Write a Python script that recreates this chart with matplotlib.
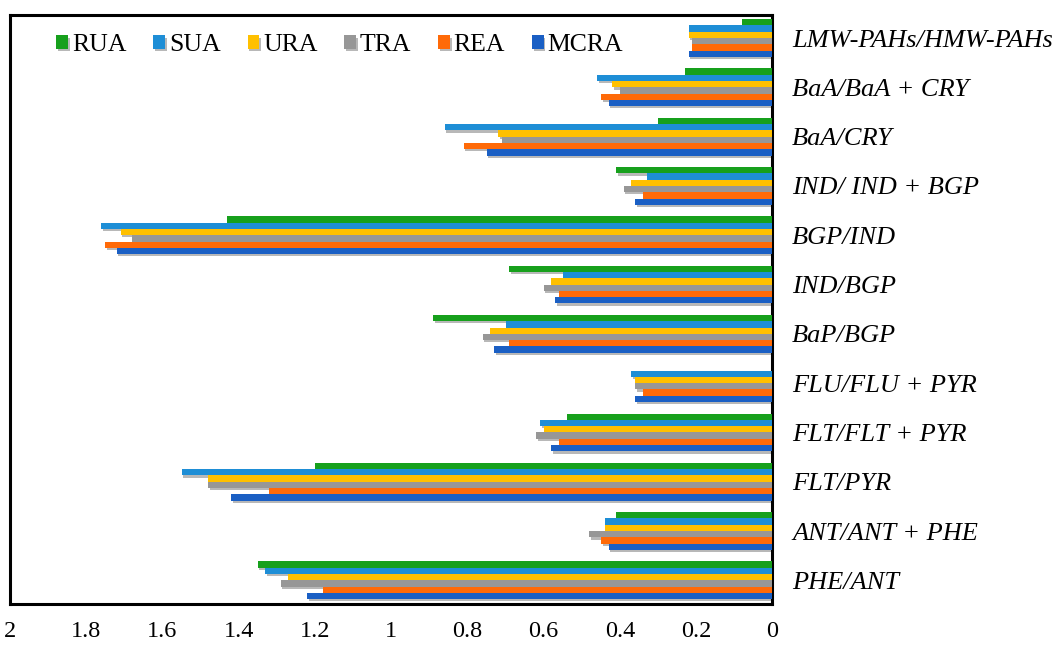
import matplotlib
matplotlib.use("Agg")
import matplotlib.pyplot as plt
import matplotlib.patheffects as pe
import numpy as np

# ---- data ----
CATS = ["LMW-PAHs/HMW-PAHs", "BaA/BaA + CRY", "BaA/CRY", "IND/ IND + BGP",
        "BGP/IND", "IND/BGP", "BaP/BGP", "FLU/FLU + PYR", "FLT/FLT + PYR",
        "FLT/PYR", "ANT/ANT + PHE", "PHE/ANT"]
SERIES = ["RUA", "SUA", "URA", "TRA", "REA", "MCRA"]
RUA  = [0.08, 0.23, 0.30, 0.41, 1.43, 0.69, 0.89, 0.00, 0.54, 1.20, 0.41, 1.35]
SUA  = [0.22, 0.46, 0.86, 0.33, 1.76, 0.55, 0.70, 0.37, 0.61, 1.55, 0.44, 1.33]
URA  = [0.22, 0.42, 0.72, 0.37, 1.71, 0.58, 0.74, 0.36, 0.60, 1.48, 0.44, 1.27]
TRA  = [0.21, 0.40, 0.71, 0.39, 1.68, 0.60, 0.76, 0.36, 0.62, 1.48, 0.48, 1.29]
REA  = [0.21, 0.45, 0.81, 0.34, 1.75, 0.56, 0.69, 0.34, 0.56, 1.32, 0.45, 1.18]
MCRA = [0.22, 0.43, 0.75, 0.36, 1.72, 0.57, 0.73, 0.36, 0.58, 1.42, 0.43, 1.22]
XTICKS = [2, 1.8, 1.6, 1.4, 1.2, 1, 0.8, 0.6, 0.4, 0.2, 0]
XLABELS = ["2", "1.8", "1.6", "1.4", "1.2", "1", "0.8", "0.6", "0.4", "0.2", "0"]

COLORS = ["#17A01C", "#1E8ED6", "#FFC000", "#979797", "#FF6A08", "#1A5FC4"]

plt.rcParams["font.family"] = ["Liberation Serif", "DejaVu Serif"]

fig = plt.figure(figsize=(10.62, 6.46), dpi=100)
ax = fig.add_axes([0.0094, 0.065, 0.718, 0.912])

y = np.arange(len(CATS))
h = 0.128
shadow = [pe.SimplePatchShadow(offset=(1.2, -1.6), shadow_rgbFace="#000000", alpha=0.28), pe.Normal()]
for i, (name, vals) in enumerate(zip(SERIES, [RUA, SUA, URA, TRA, REA, MCRA])):
    off = (i - 2.5) * h
    bars = ax.barh(y + off, vals, height=h, color=COLORS[i], label=name, zorder=3)
    for b in bars:
        b.set_path_effects(shadow)

ax.set_xlim(2, 0)
ax.set_ylim(len(CATS) - 0.52, -0.47)
ax.set_xticks(XTICKS)
ax.set_xticklabels(XLABELS, fontsize=17.5)
ax.set_yticks(y)
ax.set_yticklabels(CATS, fontsize=19, style="italic")
ax.yaxis.tick_right()
ax.tick_params(axis="y", length=0, pad=14)
ax.tick_params(axis="x", length=0, pad=12)
for s in ax.spines.values():
    s.set_linewidth(2.2)
    s.set_color("black")

leg = ax.legend(loc="center left", ncol=6, frameon=False, fontsize=18.5,
                handlelength=0.45, handleheight=0.45, handletextpad=0.15,
                columnspacing=1.05, borderpad=0, borderaxespad=0,
                bbox_to_anchor=(0.061, 0.948))

fig.savefig("out.png", dpi=100)
